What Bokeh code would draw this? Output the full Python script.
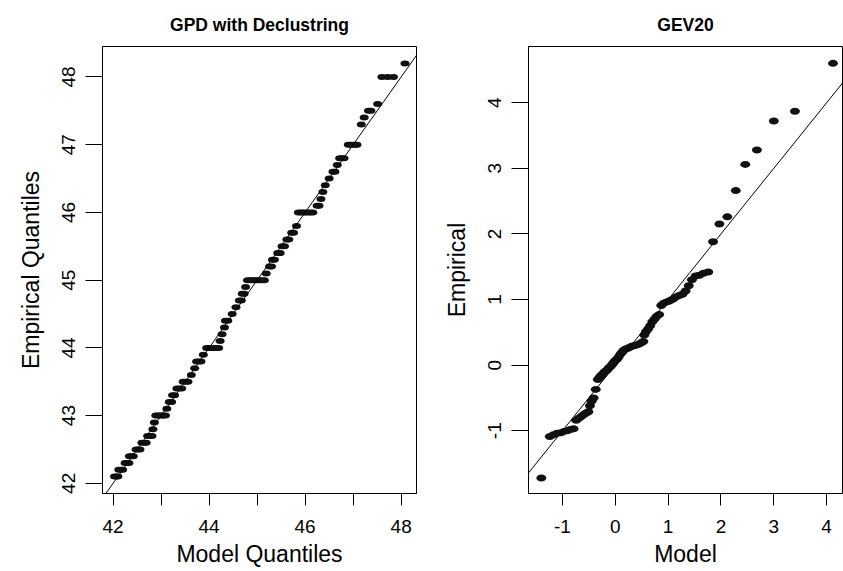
from bokeh.plotting import figure
from bokeh.layouts import row
from bokeh.models import FixedTicker, Slope, Range1d
from bokeh.embed import file_html
from bokeh.resources import INLINE

# ---------------- data: GPD with declustering (left panel) ----------------
gpd_levels = [42.1, 42.2, 42.3, 42.4, 42.5, 42.6, 42.7, 42.8, 42.9, 43.0,
              43.1, 43.2, 43.3, 43.4, 43.5, 43.6, 43.7, 43.8, 43.9, 44.0,
              44.1, 44.2, 44.3, 44.4, 44.5, 44.6, 44.7, 44.8, 44.9, 45.0,
              45.1, 45.2, 45.3, 45.4, 45.5, 45.6, 45.7, 45.8, 46.0, 46.1,
              46.2, 46.3, 46.4, 46.5, 46.6, 46.7, 46.8, 47.0, 47.3, 47.4,
              47.5, 47.6, 48.0, 48.2]
gpd_model_groups = [
    [42.03, 42.07, 42.10], [42.12, 42.16, 42.20], [42.25, 42.29, 42.33],
    [42.34, 42.38, 42.42], [42.48, 42.52, 42.56], [42.60, 42.65, 42.69],
    [42.72, 42.77, 42.81], [42.83], [42.86],
    [42.89, 42.93, 42.97, 43.01, 43.05, 43.09],
    [43.12], [43.17, 43.22], [43.24, 43.28], [43.33, 43.38, 43.43],
    [43.46, 43.51, 43.56], [43.63], [43.70], [43.74, 43.79, 43.83], [43.88],
    [43.95, 44.00, 44.05, 44.10, 44.15, 44.20],
    [44.23], [44.27], [44.32], [44.34, 44.39], [44.48], [44.56],
    [44.63, 44.67], [44.69, 44.73], [44.76],
    [44.80, 44.85, 44.90, 44.95, 45.00, 45.05, 45.10, 45.15],
    [45.19], [45.26, 45.30], [45.32, 45.36], [45.43, 45.48], [45.52, 45.57],
    [45.62, 45.66], [45.72, 45.76], [45.82],
    [45.86, 45.91, 45.96, 46.01, 46.06, 46.11, 46.16],
    [46.25, 46.29], [46.33], [46.37], [46.42], [46.50], [46.58, 46.62],
    [46.67], [46.72, 46.77, 46.81], [46.90, 46.95, 47.00, 47.05, 47.08],
    [47.17], [47.23], [47.32, 47.37], [47.51], [47.60, 47.72, 47.84], [48.08],
]
gpd_model = [m for grp in gpd_model_groups for m in grp]
gpd_empirical = [lvl for lvl, grp in zip(gpd_levels, gpd_model_groups) for _ in grp]

# ---------------- data: GEV20 (right panel) ----------------
gev_model = [-1.40, -1.24, -1.17, -1.10, -1.03, -0.97, -0.91, -0.85, -0.79, -0.74,
             -0.69, -0.64, -0.59, -0.55, -0.51, -0.48, -0.45, -0.41, -0.37, -0.33,
             -0.30, -0.27, -0.24, -0.21, -0.18, -0.15, -0.12, -0.09, -0.06, -0.03,
             0.00, 0.03, 0.06, 0.09, 0.12, 0.15, 0.18, 0.21, 0.25, 0.29,
             0.33, 0.37, 0.41, 0.45, 0.49, 0.53, 0.55, 0.58, 0.62, 0.66,
             0.70, 0.74, 0.78, 0.83, 0.87, 0.91, 0.96, 1.00, 1.05, 1.10,
             1.15, 1.21, 1.27, 1.33, 1.39, 1.45, 1.52, 1.59, 1.67, 1.76,
             1.85, 1.97, 2.12, 2.28, 2.46, 2.68, 3.00, 3.40, 4.12]
gev_empirical = [-1.72, -1.09, -1.06, -1.04, -1.03, -1.01, -1.00, -0.98, -0.97, -0.84,
                 -0.81, -0.78, -0.75, -0.73, -0.71, -0.62, -0.55, -0.50, -0.37, -0.22,
                 -0.19, -0.16, -0.14, -0.11, -0.09, -0.07, -0.04, -0.02, 0.01, 0.04,
                 0.07, 0.09, 0.12, 0.16, 0.19, 0.22, 0.24, 0.25, 0.26, 0.28,
                 0.29, 0.30, 0.31, 0.32, 0.34, 0.36, 0.46, 0.51, 0.55, 0.60,
                 0.66, 0.70, 0.74, 0.77, 0.91, 0.94, 0.96, 0.97, 0.99, 1.01,
                 1.04, 1.06, 1.08, 1.13, 1.21, 1.30, 1.36, 1.37, 1.40, 1.42,
                 1.88, 2.15, 2.26, 2.66, 3.06, 3.28, 3.72, 3.87, 4.60]

left_xticks = [42, 43, 44, 45, 46, 47, 48]
left_xlabels = {43: "", 45: "", 47: ""}
left_yticks = [42, 43, 44, 45, 46, 47, 48]
right_xticks = [-1, 0, 1, 2, 3, 4]
right_yticks = [-1, 0, 1, 2, 3, 4]
right_labels = {-1: "-1"}

FONT = "Liberation Sans"


def make_panel(title, xr, yr, xticks, yticks, xlabel, ylabel, width, bl, br):
    p = figure(width=width, height=571, output_backend="svg", toolbar_location=None,
               x_range=Range1d(*xr), y_range=Range1d(*yr),
               min_border_left=bl, min_border_right=br,
               min_border_top=46, min_border_bottom=78,
               title=title)
    p.background_fill_color = "white"
    p.border_fill_color = "white"
    p.outline_line_color = "black"
    p.outline_line_width = 1
    p.xgrid.visible = False
    p.ygrid.visible = False
    p.title.align = "center"
    p.title.text_font = FONT
    p.title.text_font_size = "17.5px"
    p.title.text_font_style = "bold"
    p.title.text_color = "black"
    p.title.standoff = 24
    for ax in (p.xaxis[0], p.yaxis[0]):
        ax.axis_line_color = "black"
        ax.major_tick_line_color = "black"
        ax.major_tick_in = 0
        ax.minor_tick_line_color = None
        ax.major_label_text_font = FONT
        ax.major_label_text_font_size = "19px"
        ax.major_label_text_color = "black"
        ax.axis_label_text_font = FONT
        ax.axis_label_text_font_size = "23px"
        ax.axis_label_text_font_style = "normal"
        ax.axis_label_text_color = "black"
    p.xaxis.ticker = FixedTicker(ticks=xticks)
    p.yaxis.ticker = FixedTicker(ticks=yticks)
    p.xaxis.major_tick_out = 12
    p.yaxis.major_tick_out = 17
    p.xaxis.major_label_standoff = 14
    p.yaxis.major_label_standoff = 10
    p.yaxis.major_label_orientation = "vertical"
    p.xaxis.axis_label = xlabel
    p.yaxis.axis_label = ylabel
    p.xaxis.axis_label_standoff = 5
    p.yaxis.axis_label_standoff = 16
    return p


left = make_panel("GPD with Declustring", (41.78, 48.32), (41.85, 48.45),
                  left_xticks, left_yticks, "Model Quantiles", "Empirical Quantiles",
                  421, 102, 5)
left.xaxis.major_label_overrides = left_xlabels
left.ellipse(x=gpd_model, y=gpd_empirical, width=9, height=6,
             width_units="screen", height_units="screen",
             fill_color="#111111", line_color=None)
left.add_layout(Slope(gradient=1, y_intercept=0, line_color="black", line_width=1))

right = make_panel("GEV20", (-1.643, 4.30), (-1.957, 4.857),
                   right_xticks, right_yticks, "Model", "Empirical",
                   422, 107, 1)
right.xaxis.major_label_overrides = right_labels
right.yaxis.major_label_overrides = right_labels
right.ellipse(x=gev_model, y=gev_empirical, width=10, height=7,
              width_units="screen", height_units="screen",
              fill_color="#111111", line_color=None)
right.add_layout(Slope(gradient=1, y_intercept=0, line_color="black", line_width=1))

layout = row(left, right)
open("out.html", "w").write(file_html(layout, INLINE))
